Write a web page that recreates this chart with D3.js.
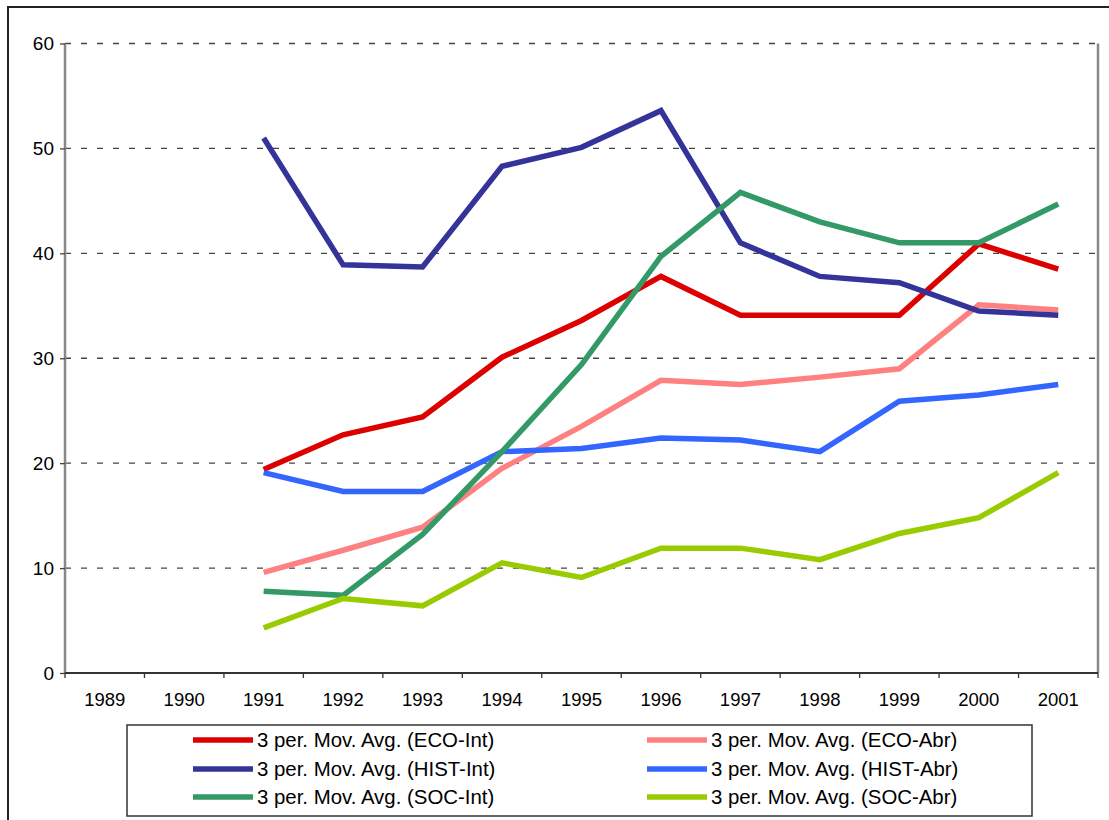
<html>
<head>
    <script src="https://d3js.org/d3.v7.min.js"></script>
    <style>
        body { margin: 0; background: white; }
        text { font-family: Arial, "Liberation Sans", sans-serif; fill: black; }
    </style>
</head>
<body>
    <svg id="chart" width="1109" height="820"></svg>

    <script>
    // categories
    const years = ["1989","1990","1991","1992","1993","1994","1995","1996","1997","1998","1999","2000","2001"];
    const dataYears = ["1991","1992","1993","1994","1995","1996","1997","1998","1999","2000","2001"];
    const yTicks = [0, 10, 20, 30, 40, 50, 60];

    // series values (3 period moving averages)
    const ecoInt  = [19.4, 22.7, 24.4, 30.1, 33.6, 37.8, 34.1, 34.1, 34.1, 40.9, 38.5];
    const ecoAbr  = [9.6, 11.7, 13.9, 19.5, 23.5, 27.9, 27.5, 28.2, 29.0, 35.1, 34.6];
    const histInt = [51.0, 38.9, 38.7, 48.3, 50.1, 53.6, 41.0, 37.8, 37.2, 34.5, 34.1];
    const histAbr = [19.1, 17.3, 17.3, 21.1, 21.4, 22.4, 22.2, 21.1, 25.9, 26.5, 27.5];
    const socInt  = [7.8, 7.4, 13.2, 21.1, 29.4, 39.7, 45.8, 43.0, 41.0, 41.0, 44.7];
    const socAbr  = [4.3, 7.1, 6.4, 10.5, 9.1, 11.9, 11.9, 10.8, 13.3, 14.8, 19.1];

    const seriesNames = [
        "3 per. Mov. Avg. (ECO-Int)", "3 per. Mov. Avg. (ECO-Abr)",
        "3 per. Mov. Avg. (HIST-Int)", "3 per. Mov. Avg. (HIST-Abr)",
        "3 per. Mov. Avg. (SOC-Int)", "3 per. Mov. Avg. (SOC-Abr)"
    ];
    const seriesColors = ["#dd0000", "#ff8080", "#333399", "#3366ff", "#339966", "#99cc00"];
    const seriesValues = [ecoInt, ecoAbr, histInt, histAbr, socInt, socAbr];

    const svg = d3.select("#chart");

    // outer chart frame (cut off at right and bottom)
    svg.append("rect")
        .attr("x", 8).attr("y", 7)
        .attr("width", 1200).attr("height", 900)
        .attr("fill", "white")
        .attr("stroke", "#222")
        .attr("stroke-width", 2);

    const plotLeft = 65, plotRight = 1098, plotTop = 43.5, plotBottom = 673;

    const x = d3.scaleBand().domain(years).range([plotLeft, plotRight]);
    const y = d3.scaleLinear().domain([0, 60]).range([plotBottom, plotTop]);

    // gridlines
    svg.append("g").selectAll("line")
        .data(yTicks.filter(d => d > 0))
        .join("line")
        .attr("x1", plotLeft).attr("x2", plotRight)
        .attr("y1", d => y(d)).attr("y2", d => y(d))
        .attr("stroke", "#444")
        .attr("stroke-width", 1.3)
        .attr("stroke-dasharray", "6,10");

    // plot area right border
    svg.append("line")
        .attr("x1", plotRight).attr("x2", plotRight)
        .attr("y1", plotTop).attr("y2", plotBottom)
        .attr("stroke", "#888").attr("stroke-width", 2.5);

    // y axis
    const yAxis = svg.append("g")
        .attr("transform", `translate(${plotLeft},0)`)
        .call(d3.axisLeft(y).tickValues(yTicks).tickSize(5).tickPadding(6));
    yAxis.select(".domain").attr("stroke", "#888").attr("stroke-width", 2.5)
        .attr("d", `M0,${plotTop}V${plotBottom}`);
    yAxis.selectAll(".tick line").attr("stroke", "#444").attr("stroke-width", 1.3);
    yAxis.selectAll("text").style("font-size", "19px").attr("fill", "black");

    // x axis: labels at band centres, ticks at band edges
    const xAxis = svg.append("g")
        .attr("transform", `translate(0,${plotBottom})`)
        .call(d3.axisBottom(x).tickSize(0).tickPadding(20));
    xAxis.select(".domain").attr("stroke", "#333").attr("stroke-width", 2)
        .attr("d", `M${plotLeft},0H${plotRight}`);
    xAxis.selectAll("text").style("font-size", "18.5px").attr("fill", "black");

    const edges = years.map(d => x(d)).concat([x.range()[1]]);
    svg.append("g").selectAll("line")
        .data(edges)
        .join("line")
        .attr("x1", d => d).attr("x2", d => d)
        .attr("y1", plotBottom).attr("y2", plotBottom + 5)
        .attr("stroke", "#333").attr("stroke-width", 1.3);

    // lines, drawn in series order
    const line = d3.line()
        .x((d, i) => x(dataYears[i]) + x.bandwidth() / 2)
        .y(d => y(d));

    svg.append("g").selectAll("path")
        .data(seriesValues)
        .join("path")
        .attr("d", line)
        .attr("fill", "none")
        .attr("stroke", (d, i) => seriesColors[i])
        .attr("stroke-width", 5.5)
        .attr("stroke-linejoin", "miter");

    // legend
    const legend = svg.append("g");
    legend.append("rect")
        .attr("x", 127).attr("y", 725)
        .attr("width", 905).attr("height", 91)
        .attr("fill", "white")
        .attr("stroke", "#333")
        .attr("stroke-width", 1.5);

    const colX = [193, 647];
    const rowY = [740, 769, 797];
    const items = legend.selectAll("g.item")
        .data(seriesNames)
        .join("g")
        .attr("class", "item")
        .attr("transform", (d, i) => `translate(${colX[i % 2]},${rowY[Math.floor(i / 2)]})`);

    items.append("line")
        .attr("x1", 0).attr("x2", 60)
        .attr("y1", 0).attr("y2", 0)
        .attr("stroke", (d, i) => seriesColors[i])
        .attr("stroke-width", 5.5);

    items.append("text")
        .attr("x", 64)
        .attr("dy", "0.35em")
        .style("font-size", "20.4px")
        .text(d => d);
    </script>
</body>
</html>
